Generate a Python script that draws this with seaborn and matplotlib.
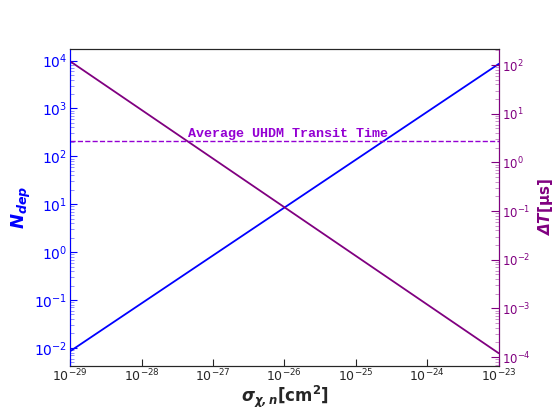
import numpy as np
import pandas as pd
import seaborn as sns
import matplotlib.pyplot as plt
from matplotlib.ticker import LogLocator

# cross section values (cm^2) and the two read-off curves
sigma = [1e-29, 1e-28, 1e-27, 1e-26, 1e-25, 1e-24, 1e-23]
n_dep = [8.5e-3, 8.5e-2, 8.5e-1, 8.5, 85, 850, 8500]
delta_t = [120, 12, 1.2, 0.12, 0.012, 0.0012, 0.00012]
transit_time = 2.75  # microseconds

data = pd.DataFrame({"sigma": sigma, "n_dep": n_dep, "delta_t": delta_t})

sns.set_style("ticks")
fig = plt.figure(figsize=(5.56, 4.12), dpi=100)
ax = fig.add_axes([0.126, 0.112, 0.771, 0.769])

sns.lineplot(x="sigma", y="n_dep", data=data, color="blue", lw=1.3, ax=ax)
ax.set_xscale("log")
ax.set_yscale("log")
ax.set_xlim(1e-29, 1e-23)
ax.set_ylim(10**-2.375, 10**4.24)

ax2 = ax.twinx()
sns.lineplot(x="sigma", y="delta_t", data=data, color="purple", lw=1.3, ax=ax2)
ax2.axhline(transit_time, color="darkviolet", ls="--", lw=1)
ax2.set_yscale("log")
ax2.set_ylim(10**-4.18, 10**2.33)
ax2.text(10**-27.35, transit_time * 1.07, "Average UHDM Transit Time", color="darkviolet",
         fontsize=9.6, fontweight="bold", family="Liberation Mono", va="bottom")

ax.set_xlabel(r"$\mathbfit{\sigma_{\chi,n}}$[cm$\mathbf{^2}$]", fontsize=12, fontweight="bold", labelpad=0)
ax.set_ylabel(r"$\mathbfit{N_{dep}}$", fontsize=13, color="blue", labelpad=1)
ax2.set_ylabel(r"$\mathbfit{\Delta T}$[μs]", fontsize=11, fontweight="bold", color="purple", labelpad=4)

ax.tick_params(axis="x", which="major", direction="in", length=5, labelsize=9, pad=1)
ax.tick_params(axis="x", which="minor", bottom=False)
ax.tick_params(axis="y", which="both", direction="in", colors="blue", labelsize=10, pad=2)
ax.tick_params(axis="y", which="major", length=5)
ax.tick_params(axis="y", which="minor", length=3, color="#8080ff")
ax2.tick_params(axis="y", which="both", direction="in", colors="purple", labelsize=8.5, pad=2)
ax2.tick_params(axis="y", which="major", length=6)
ax2.tick_params(axis="y", which="minor", length=3, color="#c080c0")
ax.yaxis.set_minor_locator(LogLocator(base=10, subs=np.arange(2, 10), numticks=20))
ax2.yaxis.set_minor_locator(LogLocator(base=10, subs=np.arange(2, 10), numticks=20))

ax2.spines["left"].set_color("blue")
ax2.spines["right"].set_color("purple")

plt.savefig("out.png", dpi=100)
